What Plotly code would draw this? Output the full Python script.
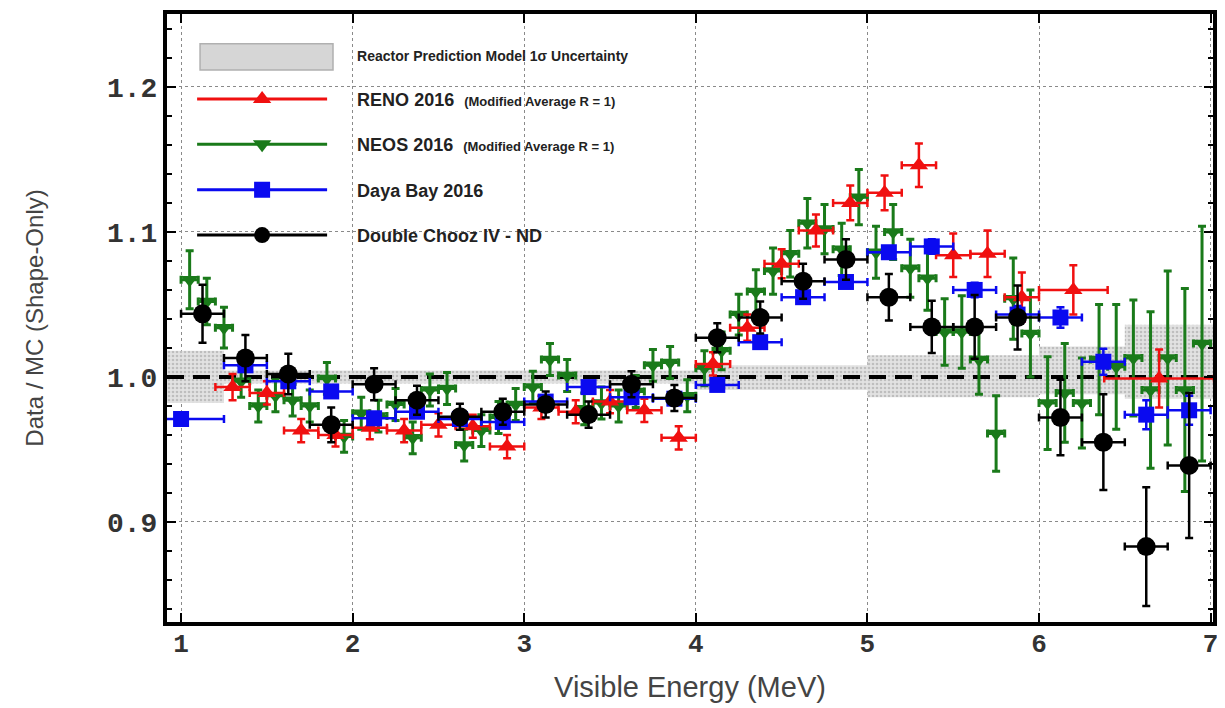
import plotly.graph_objects as go

# ---------------- data ----------------
# RENO 2016 (Modified Average R = 1)
reno_x = [1.3, 1.5, 1.7, 1.9, 2.1, 2.3, 2.5, 2.7, 2.9, 3.1, 3.3, 3.5, 3.7, 3.9,
          4.1, 4.3, 4.5, 4.7, 4.9, 5.1, 5.3, 5.5, 5.7, 5.9, 6.2, 6.7]
reno_y = [0.993, 0.989, 0.963, 0.960, 0.965, 0.963, 0.967, 0.966, 0.952, 0.979,
          0.976, 0.983, 0.977, 0.958, 1.009, 1.034, 1.078, 1.101, 1.120, 1.127,
          1.146, 1.084, 1.085, 1.055, 1.060, 0.999]
reno_yerr = [0.009, 0.008, 0.008, 0.008, 0.008, 0.008, 0.008, 0.008, 0.008, 0.008,
             0.008, 0.008, 0.008, 0.008, 0.008, 0.009, 0.010, 0.011, 0.012, 0.012,
             0.015, 0.015, 0.016, 0.017, 0.017, 0.020]
reno_xerr = [0.1] * 24 + [0.2, 0.32]

# NEOS 2016 (Modified Average R = 1)
neos_x = [1.05, 1.15, 1.25, 1.35, 1.45, 1.55, 1.65, 1.75, 1.85, 1.95,
          2.05, 2.15, 2.25, 2.35, 2.45, 2.55, 2.65, 2.75, 2.85, 2.95,
          3.05, 3.15, 3.25, 3.35, 3.45, 3.55, 3.65, 3.75, 3.85, 3.95,
          4.05, 4.15, 4.25, 4.35, 4.45, 4.55, 4.65, 4.75, 4.85, 4.95,
          5.05, 5.15, 5.25, 5.35, 5.45, 5.55, 5.65, 5.75, 5.85, 5.95,
          6.05, 6.15, 6.25, 6.35, 6.45, 6.55, 6.65, 6.75, 6.85, 6.95]
neos_y = [1.067, 1.052, 1.034, 0.997, 0.980, 0.987, 0.984, 0.980, 0.999, 0.959,
          0.975, 0.973, 0.981, 0.958, 0.991, 0.992, 0.953, 0.963, 0.972, 0.981,
          0.993, 1.012, 1.001, 0.978, 0.982, 0.980, 0.990, 1.008, 1.010, 0.987,
          1.006, 1.018, 1.043, 1.059, 1.073, 1.085, 1.106, 1.102, 1.088, 1.124,
          1.086, 1.100, 1.075, 1.068, 1.031, 1.031, 1.012, 0.961, 1.054, 1.030,
          0.982, 0.989, 0.982, 1.012, 1.007, 1.013, 0.991, 1.013, 0.991, 1.023]
neos_yerr = [0.020, 0.016, 0.014, 0.011, 0.011, 0.011, 0.011, 0.011, 0.011, 0.011,
             0.011, 0.011, 0.011, 0.011, 0.011, 0.011, 0.011, 0.011, 0.011, 0.011,
             0.011, 0.011, 0.011, 0.011, 0.011, 0.011, 0.011, 0.011, 0.011, 0.011,
             0.012, 0.013, 0.014, 0.015, 0.016, 0.016, 0.017, 0.017, 0.018, 0.019,
             0.018, 0.019, 0.020, 0.022, 0.023, 0.025, 0.024, 0.026, 0.028, 0.030,
             0.032, 0.034, 0.031, 0.038, 0.043, 0.040, 0.054, 0.060, 0.070, 0.081]
neos_xerr = [0.05] * 60

# Daya Bay 2016
dyb_x = [1.0, 1.375, 1.625, 1.875, 2.125, 2.375, 2.625, 2.875, 3.125, 3.375,
         3.625, 3.875, 4.125, 4.375, 4.625, 4.875, 5.125, 5.375, 5.625, 5.875,
         6.125, 6.375, 6.625, 6.875]
dyb_y = [0.971, 1.008, 0.997, 0.990, 0.9715, 0.976, 0.971, 0.969, 0.983, 0.993,
         0.986, 0.985, 0.9945, 1.024, 1.055, 1.0655, 1.086, 1.090, 1.060, 1.043,
         1.041, 1.0105, 0.974, 0.977]
dyb_yerr = [0.003, 0.003, 0.003, 0.003, 0.003, 0.003, 0.003, 0.003, 0.003, 0.003,
            0.003, 0.003, 0.003, 0.003, 0.004, 0.004, 0.004, 0.005, 0.005, 0.006,
            0.007, 0.009, 0.010, 0.010]
dyb_xerr = [0.25] + [0.125] * 23

# Double Chooz IV - ND
dc_x = [1.125, 1.375, 1.625, 1.875, 2.125, 2.375, 2.625, 2.875, 3.125, 3.375,
        3.625, 3.875, 4.125, 4.375, 4.625, 4.875, 5.125, 5.375, 5.625, 5.875,
        6.125, 6.375, 6.625, 6.875]
dc_y = [1.0435, 1.013, 1.002, 0.967, 0.995, 0.984, 0.9725, 0.976, 0.981, 0.974,
        0.995, 0.9855, 1.027, 1.041, 1.066, 1.081, 1.055, 1.0345, 1.0345, 1.041,
        0.972, 0.955, 0.883, 0.939]
dc_yerr = [0.020, 0.016, 0.014, 0.012, 0.011, 0.010, 0.009, 0.009, 0.009, 0.009,
           0.009, 0.009, 0.010, 0.011, 0.012, 0.014, 0.016, 0.018, 0.022, 0.022,
           0.026, 0.033, 0.041, 0.050]
dc_xerr = [0.125] * 24

# Reactor prediction model 1 sigma band (stepped)
band_edges = [0.918, 1.25, 4.0, 5.0, 6.0, 6.5, 7.014]
band_lo = [0.982, 0.9955, 0.991, 0.986, 0.988, 0.985]
band_hi = [1.018, 1.0045, 1.008, 1.015, 1.021, 1.036]

REF = 1.0
X_RANGE = [0.918, 7.014]
Y_RANGE = [0.831, 1.2503]
x_ticks = [1, 2, 3, 4, 5, 6, 7]
y_ticks = [0.9, 1.0, 1.1, 1.2]
y_ticklabels = ["0.9", "1.0", "1.1", "1.2"]

RED = "#f01010"
GREEN = "#1a7a1a"
BLUE = "#0a0af0"
BLACK = "#000000"
BAND_BG = "#e2e2e2"
BAND_FG = "#9a9a9a"

# ---------------- figure ----------------
fig = go.Figure()

# band polygon built from the step arrays
bx, by_hi = [], []
for i in range(len(band_lo)):
    bx += [band_edges[i], band_edges[i + 1]]
    by_hi += [band_hi[i], band_hi[i]]
bx_lo, by_lo = [], []
for i in reversed(range(len(band_lo))):
    bx_lo += [band_edges[i + 1], band_edges[i]]
    by_lo += [band_lo[i], band_lo[i]]

fig.add_trace(go.Scatter(
    x=bx + bx_lo, y=by_hi + by_lo, mode="lines", fill="toself",
    line=dict(width=0, color="rgba(0,0,0,0)"),
    fillcolor=BAND_BG,
    fillpattern=dict(shape=".", bgcolor=BAND_BG, fgcolor=BAND_FG,
                     size=4, solidity=0.35),
    showlegend=False, hoverinfo="skip",
))

# reference line
fig.add_trace(go.Scatter(
    x=X_RANGE, y=[REF, REF], mode="lines",
    line=dict(color="black", width=4, dash="17px,9px"),
    showlegend=False, hoverinfo="skip",
))


def series(x, y, xerr, yerr, color, symbol, size, thick=2.5):
    return go.Scatter(
        x=x, y=y, mode="markers",
        marker=dict(color=color, symbol=symbol, size=size, line=dict(width=0)),
        error_y=dict(type="data", array=yerr, color=color, thickness=thick, width=4),
        error_x=dict(type="data", array=xerr, color=color, thickness=thick, width=4),
        showlegend=False,
    )


fig.add_trace(series(neos_x, neos_y, neos_xerr, neos_yerr, GREEN, "triangle-down", 15, 3))
fig.add_trace(series(reno_x, reno_y, reno_xerr, reno_yerr, RED, "triangle-up", 16))
fig.add_trace(series(dyb_x, dyb_y, dyb_xerr, dyb_yerr, BLUE, "square", 16))
fig.add_trace(series(dc_x, dc_y, dc_xerr, dc_yerr, BLACK, "circle", 19))

# legend-only entries
pad = "\u00a0" * 5
small = "<span style='font-size:13px'>(Modified Average R = 1)</span>"
fig.add_trace(go.Scatter(
    x=[None], y=[None], mode="lines",
    line=dict(color="rgba(0,0,0,0)", width=1),
    name=pad + "<b><span style='font-size:14px'>Reactor Prediction Model 1σ Uncertainty</span></b>",
    legendgroup="g0", showlegend=True,
))
legend_items = [
    (pad + "<b>RENO 2016\u00a0\u00a0" + small + "</b>", RED, "triangle-up", "g1"),
    (pad + "<b>NEOS 2016\u00a0\u00a0" + small + "</b>", GREEN, "triangle-down", "g2"),
    (pad + "<b>Daya Bay 2016</b>", BLUE, "square", "g3"),
    (pad + "<b>Double Chooz IV - ND</b>", BLACK, "circle", "g4"),
]
for name, color, symbol, grp in legend_items:
    fig.add_trace(go.Scatter(
        x=[None], y=[None], mode="lines+markers", name=name,
        line=dict(color=color, width=3),
        marker=dict(color=color, symbol=symbol, size=17),
        legendgroup=grp, showlegend=True,
    ))

# legend swatch for the band (paper coordinates)
fig.add_shape(type="rect", xref="paper", yref="paper",
              x0=0.0316, x1=0.1587, y0=0.908, y1=0.951,
              fillcolor="#d6d6d6", line=dict(color="#b0b0b0", width=1.5),
              layer="above")

axis_title_font = "Liberation Sans, Arial, sans-serif"
fig.update_layout(
    width=1217, height=700,
    margin=dict(l=159, r=12, t=6, b=86),
    plot_bgcolor="white", paper_bgcolor="white",
    font=dict(family="Liberation Sans, Arial, sans-serif", color="#222"),
    showlegend=True,
    legend=dict(
        x=0.024, y=0.965, xanchor="left", yanchor="top",
        bgcolor="rgba(255,255,255,0)", borderwidth=0,
        itemwidth=130, traceorder="grouped", tracegroupgap=19,
        font=dict(size=18, color="#222", family="Liberation Sans, Arial, sans-serif"),
    ),
    xaxis=dict(
        range=X_RANGE, tickvals=x_ticks, ticktext=[str(t) for t in x_ticks],
        automargin=False, ticklabelstandoff=-5,
        ticks="inside", ticklen=9, tickwidth=1.5, tickcolor="black",
        showline=True, linewidth=4, linecolor="black", mirror="allticks",
        showgrid=True, gridcolor="#8a8a8a", gridwidth=1, griddash="dot",
        zeroline=False,
        tickfont=dict(family="Liberation Mono, Courier New, monospace",
                      size=26, color="#333", weight="bold"),
        title=dict(text="Visible Energy (MeV)", standoff=18,
                   font=dict(family=axis_title_font, size=29, color="#444")),
    ),
    yaxis=dict(
        range=Y_RANGE, tickvals=y_ticks, ticktext=y_ticklabels,
        automargin=False,
        ticks="inside", ticklen=9, tickwidth=1.5, tickcolor="black",
        minor=dict(dtick=0.02, ticks="inside", ticklen=5, tickcolor="black",
                   showgrid=False),
        showline=True, linewidth=4, linecolor="black", mirror="allticks",
        showgrid=True, gridcolor="#8a8a8a", gridwidth=1, griddash="dot",
        zeroline=False,
        tickfont=dict(family="Liberation Mono, Courier New, monospace",
                      size=28, color="#333", weight="bold"),
        title=dict(text="Data / MC (Shape-Only)", standoff=58,
                   font=dict(family=axis_title_font, size=24, color="#444")),
    ),
)

fig.write_html("out.html")
